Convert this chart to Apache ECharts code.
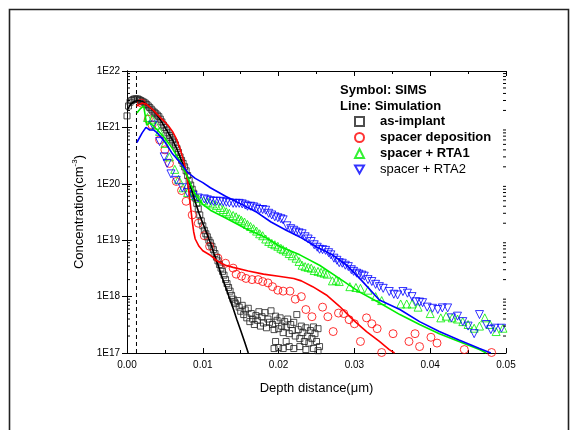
<!DOCTYPE html>
<html>
<head>
<meta charset="utf-8">
<script src="https://cdn.jsdelivr.net/npm/echarts@6/dist/echarts.min.js"></script>
<style>html,body{margin:0;padding:0;background:#fff;}#c{width:572px;height:430px;}</style>
</head>
<body>
<div id="c"></div>
<script>
// ---------- DATA ----------
const xTicks = [0.00, 0.01, 0.02, 0.03, 0.04, 0.05];
const yTickLabels = ['1E17', '1E18', '1E19', '1E20', '1E21', '1E22'];
const yMin = 1e17, yMax = 1e22;
const legendNames = ['as-implant', 'spacer deposition', 'spacer + RTA1', 'spacer + RTA2'];
const junctionDepth = 0.00125;

// SIMS: as-implant (squares)
const simsAsImplant = [
[0.0000,1.6e21],[0.0002,2.4e21],[0.0004,2.8e21],[0.0006,3.0e21],[0.0008,3.1e21],[0.0010,3.2e21],[0.0012,3.2e21],
[0.0014,3.2e21],[0.0016,3.1e21],[0.0018,3.0e21],[0.0020,2.9e21],[0.0022,2.8e21],[0.0024,2.7e21],[0.0026,2.55e21],
[0.0028,2.4e21],[0.0030,2.25e21],[0.0032,2.1e21],[0.0034,1.95e21],[0.0036,1.85e21],[0.0038,1.75e21],[0.0040,1.65e21],
[0.0042,1.55e21],[0.0044,1.4e21],[0.0046,1.25e21],[0.0048,1.1e21],[0.0050,1.0e21],[0.0052,9.0e20],[0.0054,8.0e20],
[0.0056,7.2e20],[0.0058,6.6e20],[0.0060,6.0e20],[0.0062,5.5e20],[0.0064,4.9e20],[0.0066,4.2e20],[0.0068,3.6e20],
[0.0070,3.0e20],[0.0072,2.6e20],[0.0074,2.3e20],[0.0076,2.0e20],[0.0078,1.7e20],[0.0080,1.4e20],[0.0082,1.15e20],
[0.0084,9.5e19],[0.0086,8.0e19],[0.0088,6.8e19],[0.0090,5.6e19],[0.0092,4.5e19],[0.0094,3.6e19],[0.0096,2.8e19],
[0.0098,2.2e19],[0.0100,1.8e19],[0.0102,1.5e19],[0.0104,1.3e19],[0.0106,1.15e19],[0.0108,1.0e19],[0.0110,9.0e18],
[0.0112,7.8e18],[0.0114,6.8e18],[0.0116,5.8e18],[0.0118,5.0e18],[0.0120,4.3e18],[0.0122,3.7e18],[0.0124,3.2e18],
[0.0126,2.8e18],[0.0128,2.4e18],[0.0130,2.0e18],[0.0132,1.7e18],[0.0134,1.45e18],[0.0136,1.25e18],[0.0138,1.05e18],
[0.0140,9.0e17],[0.0142,8.0e17],[0.0143,7.5e17],[0.0146,8.5e17],[0.0148,6.5e17],[0.0150,5.5e17],[0.0152,7.0e17],
[0.0154,4.8e17],[0.0156,5.8e17],[0.0158,4.2e17],[0.0160,6.2e17],[0.0162,3.6e17],[0.0164,5.0e17],[0.0166,4.0e17],
[0.0168,3.2e17],[0.0170,4.6e17],[0.0172,3.8e17],[0.0174,5.4e17],[0.0176,3.0e17],[0.0178,4.4e17],[0.0180,3.4e17],
[0.0182,5.2e17],[0.0184,2.8e17],[0.0186,4.0e17],[0.0188,3.5e17],[0.0190,5.6e17],[0.0192,3.2e17],[0.0194,2.6e17],
[0.0196,4.5e17],[0.0198,3.8e17],[0.0200,2.7e17],[0.0202,4.2e17],[0.0204,3.0e17],[0.0206,2.3e17],[0.0208,3.6e17],
[0.0210,2.9e17],[0.0212,4.0e17],[0.0214,2.2e17],[0.0216,3.2e17],[0.0218,2.5e17],[0.0220,3.5e17],[0.0222,2.0e17],
[0.0224,4.8e17],[0.0226,2.6e17],[0.0228,1.8e17],[0.0230,3.0e17],[0.0232,2.3e17],[0.0234,1.6e17],[0.0236,2.8e17],
[0.0238,2.0e17],[0.0240,1.5e17],[0.0242,2.5e17],[0.0244,1.8e17],[0.0246,2.9e17],[0.0248,2.2e17],[0.0250,1.6e17],
[0.0252,2.7e17],[0.0254,1.3e17],[0.0194,1.2e17],[0.0196,1.6e17],[0.0200,1.25e17],[0.0206,1.2e17],[0.0210,1.6e17],
[0.0214,1.3e17],[0.0220,1.2e17],[0.0228,1.3e17],[0.0236,1.15e17],[0.0246,1.2e17],[0.0252,1.1e17]
];

// SIMS: spacer deposition (circles)
const simsSpacerDep = [
[0.0019,2.7e21],[0.0028,1.4e21],[0.0033,1.1e21],[0.0043,6.0e20],[0.0050,4.0e20],[0.0056,2.3e20],[0.0065,1.1e20],
[0.0072,7.6e19],[0.0078,4.9e19],[0.0086,2.8e19],[0.0094,2.0e19],[0.0102,1.2e19],[0.0109,7.8e18],[0.0120,4.8e18],
[0.0130,3.9e18],[0.0140,3.2e18],[0.0144,2.5e18],[0.0151,2.3e18],[0.0157,2.1e18],[0.0165,2.0e18],[0.0173,2.0e18],
[0.0179,1.85e18],[0.0186,1.75e18],[0.0192,1.5e18],[0.0199,1.3e18],[0.0206,1.25e18],[0.0215,1.25e18],[0.0222,9.0e17],
[0.0230,1.0e18],[0.0236,5.9e17],[0.0244,4.4e17],[0.0258,6.5e17],[0.0265,4.4e17],[0.0272,2.4e17],[0.0279,5.1e17],
[0.0286,5.0e17],[0.0293,3.9e17],[0.0300,3.3e17],[0.0308,1.6e17],[0.0316,4.2e17],[0.0323,3.3e17],[0.0330,2.7e17],
[0.0336,1.02e17],[0.0351,2.2e17],[0.0372,1.6e17],[0.0380,2.2e17],[0.0386,1.3e17],[0.0401,1.9e17],[0.0409,1.5e17],
[0.0445,1.15e17],[0.0481,1.02e17]
];

// SIMS: spacer + RTA1 (up triangles)
const simsRTA1 = [
[0.0027,1.5e21],[0.0033,1.4e21],[0.0038,1.1e21],[0.0043,8.5e20],[0.0050,5.2e20],[0.0056,3.0e20],[0.0063,1.8e20],
[0.0068,1.2e20],[0.0074,8.5e19],[0.0080,7.0e19],[0.0087,6.2e19],[0.0094,5.5e19],[0.0101,5.0e19],[0.0107,4.7e19],
[0.0113,4.4e19],[0.0118,4.1e19],[0.0123,3.8e19],[0.0127,3.5e19],[0.0131,3.2e19],[0.0135,3.0e19],[0.0140,2.75e19],
[0.0144,2.6e19],[0.0148,2.4e19],[0.0151,2.25e19],[0.0155,2.1e19],[0.0159,1.9e19],[0.0163,1.75e19],[0.0167,1.6e19],
[0.0171,1.45e19],[0.0175,1.3e19],[0.0179,1.2e19],[0.0183,1.05e19],[0.0187,9.5e18],[0.0191,8.8e18],[0.0195,8.3e18],
[0.0199,7.8e18],[0.0203,7.2e18],[0.0206,6.8e18],[0.0210,6.4e18],[0.0214,5.8e18],[0.0218,5.3e18],[0.0223,4.8e18],
[0.0227,4.2e18],[0.0231,3.6e18],[0.0235,3.4e18],[0.0239,3.3e18],[0.0243,3.2e18],[0.0247,2.9e18],[0.0252,2.8e18],
[0.0256,2.7e18],[0.0260,2.6e18],[0.0264,2.5e18],[0.0271,1.9e18],[0.0276,1.95e18],[0.0280,1.85e18],[0.0294,1.5e18],
[0.0302,1.45e18],[0.0308,1.4e18],[0.0318,1.3e18],[0.0328,1.0e18],[0.0336,8.5e17],[0.0361,7.4e17],[0.0369,7.4e17],
[0.0376,7.4e17],[0.0384,6.5e17],[0.0400,5.0e17],[0.0414,4.2e17],[0.0421,4.5e17],[0.0429,4.2e17],[0.0436,4.0e17],
[0.0443,3.6e17],[0.0450,3.2e17],[0.0458,2.75e17],[0.0465,3.0e17],[0.0472,4.2e17],[0.0479,3.2e17],[0.0487,2.4e17],
[0.0496,2.75e17]
];

// SIMS: spacer + RTA2 (down triangles)
const simsRTA2 = [
[0.0034,1.1e21],[0.0043,5.6e20],[0.0049,3.0e20],[0.0053,2.3e20],[0.0058,1.5e20],[0.0065,1.15e20],[0.0073,8.5e19],
[0.0080,7.0e19],[0.0087,6.2e19],[0.0094,5.6e19],[0.0102,5.4e19],[0.0106,5.2e19],[0.0110,5.0e19],[0.0114,4.9e19],
[0.0118,4.9e19],[0.0123,4.9e19],[0.0127,4.8e19],[0.0131,4.7e19],[0.0135,4.6e19],[0.0140,4.5e19],[0.0144,4.5e19],
[0.0148,4.5e19],[0.0152,4.4e19],[0.0156,4.2e19],[0.0159,4.0e19],[0.0163,4.0e19],[0.0167,3.9e19],[0.0171,3.7e19],
[0.0175,3.5e19],[0.0179,3.5e19],[0.0183,3.4e19],[0.0187,3.0e19],[0.0191,2.8e19],[0.0195,2.6e19],[0.0199,2.5e19],
[0.0203,2.4e19],[0.0206,2.3e19],[0.0211,1.8e19],[0.0216,1.6e19],[0.0220,1.5e19],[0.0223,1.4e19],[0.0227,1.35e19],
[0.0231,1.3e19],[0.0235,1.15e19],[0.0239,1.05e19],[0.0243,9.5e18],[0.0247,8.3e18],[0.0251,7.5e18],[0.0254,6.9e18],
[0.0258,6.8e18],[0.0262,6.6e18],[0.0266,6.0e18],[0.0269,5.5e18],[0.0273,4.8e18],[0.0277,4.4e18],[0.0280,4.0e18],
[0.0284,3.9e18],[0.0288,3.6e18],[0.0292,3.4e18],[0.0296,3.0e18],[0.0299,2.8e18],[0.0303,2.6e18],[0.0306,2.5e18],
[0.0310,2.4e18],[0.0313,2.3e18],[0.0318,2.0e18],[0.0323,1.85e18],[0.0328,1.65e18],[0.0333,1.5e18],[0.0338,1.4e18],
[0.0346,1.23e18],[0.0352,1.1e18],[0.0357,1.07e18],[0.0364,1.23e18],[0.0370,1.15e18],[0.0376,1.0e18],[0.0381,8.1e17],
[0.0386,8.0e17],[0.0390,7.8e17],[0.0396,6.5e17],[0.0403,6.2e17],[0.0410,5.9e17],[0.0416,6.3e17],[0.0423,6.3e17],
[0.0428,4.2e17],[0.0436,4.5e17],[0.0443,3.6e17],[0.0450,3.0e17],[0.0458,2.2e17],[0.0465,4.8e17],[0.0474,3.2e17],
[0.0480,2.6e17],[0.0485,2.75e17],[0.0494,2.75e17]
];

// Simulation lines
const simAsImplant = [
[0.0000,2.0e21],[0.0005,2.6e21],[0.0010,2.9e21],[0.0015,3.0e21],[0.0020,2.9e21],[0.0025,2.6e21],[0.0030,2.3e21],
[0.0035,1.95e21],[0.0040,1.65e21],[0.0045,1.3e21],[0.0050,1.0e21],[0.0055,7.8e20],[0.0060,6.0e20],[0.0065,4.4e20],
[0.0070,3.0e20],[0.0075,2.0e20],[0.0080,1.3e20],[0.0085,8.0e19],[0.0090,4.8e19],[0.0095,3.0e19],[0.0100,2.0e19],
[0.0105,1.35e19],[0.0110,9.0e18],[0.0115,5.7e18],[0.0120,3.7e18],[0.0125,2.3e18],[0.0130,1.5e18],[0.0135,9.5e17],
[0.0140,6.2e17],[0.0145,3.9e17],[0.0150,2.5e17],[0.0155,1.6e17],[0.0160,1.0e17]
];
const simSpacerDep = [
[0.00125,2.4e21],[0.0015,2.5e21],[0.0020,2.7e21],[0.0025,2.6e21],[0.0030,2.3e21],[0.0035,2.0e21],[0.0040,1.7e21],
[0.0045,1.45e21],[0.0050,1.25e21],[0.0055,1.05e21],[0.0060,8.5e20],[0.0065,6.3e20],[0.0070,4.2e20],[0.0075,2.5e20],
[0.0078,1.6e20],[0.0080,1.1e20],[0.0082,6.5e19],[0.0084,3.8e19],[0.0086,2.2e19],[0.0088,1.4e19],[0.0090,1.05e19],
[0.0095,7.8e18],[0.0100,6.5e18],[0.0110,5.4e18],[0.0120,4.2e18],[0.0130,3.6e18],[0.0140,3.3e18],[0.0160,2.85e18],
[0.0180,2.5e18],[0.0200,2.3e18],[0.0220,2.1e18],[0.0230,1.9e18],[0.0245,1.5e18],[0.0263,1.07e18],[0.0280,6.8e17],
[0.0298,3.9e17],[0.0316,2.4e17],[0.0333,1.6e17],[0.0346,1.15e17],[0.0353,1.0e17]
];
const simRTA1 = [
[0.0013,1.8e21],[0.0017,2.1e21],[0.0022,2.4e21],[0.0026,1.1e21],[0.0030,1.2e21],[0.0035,1.05e21],[0.0040,9.0e20],
[0.0050,6.5e20],[0.0060,4.2e20],[0.0070,2.5e20],[0.0080,1.3e20],[0.0090,6.5e19],[0.0100,4.3e19],[0.0110,3.4e19],
[0.0127,2.6e19],[0.0157,1.6e19],[0.0184,1.1e19],[0.0201,7.8e18],[0.0228,5.5e18],[0.0254,3.6e18],[0.0280,2.1e18],
[0.0307,1.2e18],[0.0333,7.8e17],[0.0360,4.8e17],[0.0386,3.2e17],[0.0412,2.2e17],[0.0438,1.6e17],[0.0465,1.15e17],
[0.0474,1.0e17]
];
const simRTA2 = [
[0.0013,5.4e20],[0.0020,8.0e20],[0.0025,1.0e21],[0.0030,9.0e20],[0.0035,9.0e20],[0.0040,8.0e20],[0.0050,5.5e20],
[0.0060,3.4e20],[0.0070,2.4e20],[0.0080,1.6e20],[0.0090,1.25e20],[0.0100,1.05e20],[0.0110,8.5e19],[0.0130,6.0e19],
[0.0150,4.4e19],[0.0170,3.2e19],[0.0190,2.1e19],[0.0210,1.5e19],[0.0230,1.1e19],[0.0250,7.6e18],[0.0270,5.6e18],
[0.0290,3.6e18],[0.0310,1.9e18],[0.0333,8.7e17],[0.0360,5.9e17],[0.0386,3.6e17],[0.0412,2.4e17],[0.0438,1.7e17],
[0.0465,1.2e17],[0.0480,1.0e17]
];

// ---------- CHART ----------
const FONT = '"Liberation Sans", Arial, sans-serif';
const chart = echarts.init(document.getElementById('c'), null, {renderer: 'canvas'});

const minorVals = [];
for (let e = 17; e < 22; e++) for (let m = 2; m <= 9; m++) minorVals.push([0, m * Math.pow(10, e)]);

const downTri = 'path://M0,0L10,0L5,9Z';

function scatter(name, data, symbol, color, size) {
  return {
    name, type: 'scatter', data, symbol, symbolSize: size,
    itemStyle: {color: 'rgba(0,0,0,0)', borderColor: color, borderWidth: 1},
    emphasis: {disabled: true}, z: 3
  };
}
function line(name, data, color) {
  return {name, type: 'line', data, showSymbol: false, symbol: 'none',
    lineStyle: {color, width: 1.6}, itemStyle: {color}, emphasis: {disabled: true}, z: 4};
}

const option = {
  animation: false,
  backgroundColor: '#fff',
  textStyle: {fontFamily: FONT},
  grid: {left: 127, right: 66, top: 71, bottom: 77},
  graphic: [
    {type: 'rect', left: 7, top: 7, shape: {width: 559, height: 440},
     style: {fill: 'none', stroke: '#222', lineWidth: 1.6}, silent: true},
    {type: 'text', left: 340, top: 84, style: {text: 'Symbol: SIMS', font: 'bold 13px ' + FONT, fill: '#000'}},
    {type: 'text', left: 340, top: 100, style: {text: 'Line: Simulation', font: 'bold 13px ' + FONT, fill: '#000'}}
  ],
  legend: {
    orient: 'vertical', left: 349, top: 110, itemWidth: 9, itemHeight: 9, itemGap: 3,
    symbolKeepAspect: true,
    selectedMode: false,
    textStyle: {fontFamily: FONT, fontSize: 13, color: '#000', padding: [0, 0, 0, 11]},
    data: [
      {name: legendNames[0], textStyle: {fontWeight: 'bold'}},
      {name: legendNames[1], textStyle: {fontWeight: 'bold'}},
      {name: legendNames[2], textStyle: {fontWeight: 'bold'}},
      {name: legendNames[3], textStyle: {fontWeight: 'normal'}}
    ]
  },
  xAxis: [
    {type: 'value', min: xTicks[0], max: xTicks[xTicks.length - 1], interval: 0.01,
     name: 'Depth distance(\u03bcm)', nameLocation: 'middle', nameGap: 29,
     nameTextStyle: {fontSize: 13, color: '#000', fontFamily: FONT},
     axisLine: {lineStyle: {color: '#000', width: 1}},
     axisTick: {inside: true, length: 5, lineStyle: {color: '#000'}},
     minorTick: {show: true, splitNumber: 2, length: 3, lineStyle: {color: '#000'}},
     axisLabel: {color: '#000', fontSize: 10, margin: 7, formatter: v => v.toFixed(2)},
     splitLine: {show: false}},
    {type: 'value', position: 'top', min: xTicks[0], max: xTicks[xTicks.length - 1], interval: 0.01,
     axisLine: {lineStyle: {color: '#000', width: 1}},
     axisTick: {inside: true, length: 5, lineStyle: {color: '#000'}},
     minorTick: {show: true, splitNumber: 2, length: 3, lineStyle: {color: '#000'}},
     axisLabel: {show: false}, splitLine: {show: false}}
  ],
  yAxis: [
    {type: 'log', logBase: 10, min: yMin, max: yMax,
     name: 'Concentration(cm{sup|-3})', nameLocation: 'middle', nameGap: 30, nameRotate: 90,
     nameTextStyle: {fontSize: 13, color: '#000', fontFamily: FONT,
       rich: {sup: {fontSize: 8, verticalAlign: 'top', padding: [0, 0, 8, 0], color: '#000', fontFamily: FONT}}},
     axisLine: {lineStyle: {color: '#000', width: 1}},
     axisTick: {inside: true, length: 5, lineStyle: {color: '#000'}},
     axisLabel: {color: '#000', fontSize: 10, margin: 7,
       formatter: v => yTickLabels[Math.round(Math.log10(v)) - 17] || ''},
     splitLine: {show: false}},
    {type: 'log', logBase: 10, min: yMin, max: yMax, position: 'right',
     axisLine: {lineStyle: {color: '#000', width: 1}},
     axisTick: {inside: true, length: 5, lineStyle: {color: '#000'}},
     axisLabel: {show: false}, splitLine: {show: false}}
  ],
  series: [
    {name: 'junction', type: 'line', data: [[junctionDepth, yMin], [junctionDepth, yMax]],
     showSymbol: false, symbol: 'none', silent: true, z: 2,
     lineStyle: {color: '#000', type: [4, 3], width: 1}, emphasis: {disabled: true}},
    scatter(legendNames[0], simsAsImplant, 'rect', '#222', 6),
    scatter(legendNames[1], simsSpacerDep, 'circle', '#ff0000', 8),
    scatter(legendNames[2], simsRTA1, 'triangle', '#00ee00', 8),
    scatter(legendNames[3], simsRTA2, downTri, '#0000ff', 8),
    line('sim-as-implant', simAsImplant, '#000000'),
    line('sim-spacer', simSpacerDep, '#ff0000'),
    line('sim-rta1', simRTA1, '#00ee00'),
    line('sim-rta2', simRTA2, '#0000ff'),
    {name: 'minorTicks', type: 'custom', data: minorVals, silent: true, z: 5,
     renderItem: function (params, api) {
       const v = api.value(1);
       const l = api.coord([xTicks[0], v]);
       const r = api.coord([xTicks[xTicks.length - 1], v]);
       return {type: 'group', children: [
         {type: 'line', shape: {x1: l[0], y1: l[1], x2: l[0] + 3, y2: l[1]}, style: {stroke: '#000', lineWidth: 1}},
         {type: 'line', shape: {x1: r[0], y1: r[1], x2: r[0] - 3, y2: r[1]}, style: {stroke: '#000', lineWidth: 1}}
       ]};
     }}
  ]
};
chart.setOption(option);
</script>
</body>
</html>
